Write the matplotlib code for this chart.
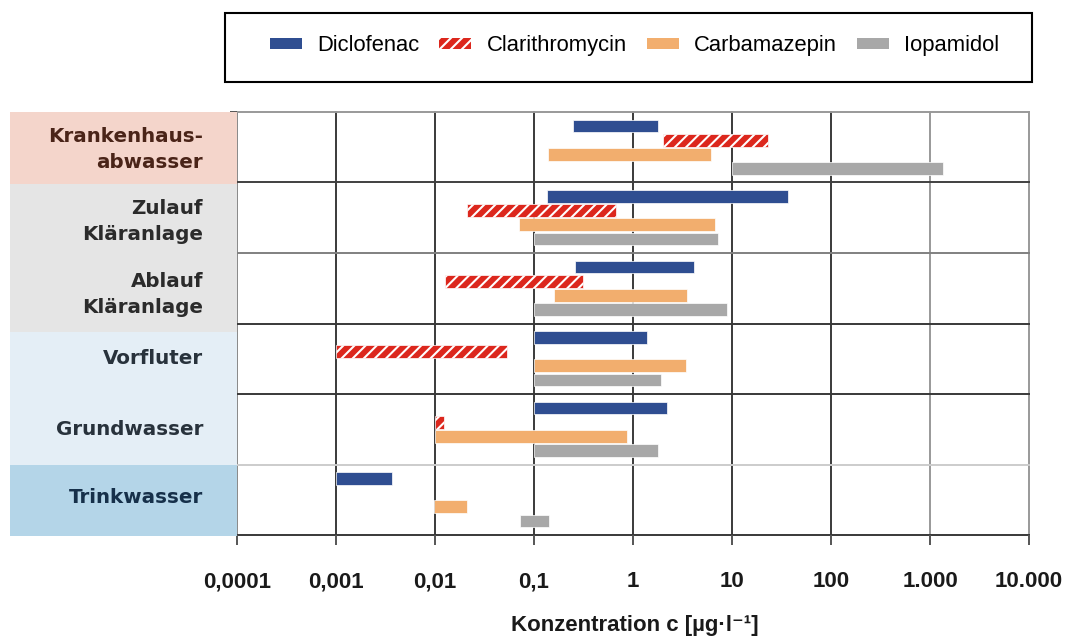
import numpy as np
import matplotlib
matplotlib.use('Agg')
import matplotlib.pyplot as plt
from matplotlib.patches import Patch, Rectangle
from matplotlib.ticker import NullLocator

# categories (top to bottom)
categories = ['Krankenhaus-\nabwasser', 'Zulauf\nKläranlage', 'Ablauf\nKläranlage',
              'Vorfluter', 'Grundwasser', 'Trinkwasser']

# concentration ranges in µg/l (min, max) per category
diclofenac_min = [0.25, 0.135, 0.26, 0.1, 0.1, 0.001]
diclofenac_max = [1.8, 37, 4.1, 1.4, 2.2, 0.0037]
clarithromycin_min = [2.0, 0.021, 0.0125, 0.001, 0.01, np.nan]
clarithromycin_max = [23, 0.67, 0.31, 0.053, 0.0123, np.nan]
carbamazepin_min = [0.14, 0.07, 0.16, 0.1, 0.01, 0.0098]
carbamazepin_max = [6.1, 6.7, 3.5, 3.4, 0.86, 0.021]
iopamidol_min = [10, 0.1, 0.1, 0.1, 0.1, 0.072]
iopamidol_max = [1350, 7.2, 9.0, 1.9, 1.8, 0.142]

xticks = [1e-4, 1e-3, 1e-2, 1e-1, 1, 10, 100, 1000, 10000]
xtick_labels = ['0,0001', '0,001', '0,01', '0,1', '1', '10', '100', '1.000', '10.000']

plt.rcParams['hatch.linewidth'] = 1.5

fig = plt.figure(figsize=(10.69, 6.37), dpi=100)
ax = fig.add_axes([0.2217, 0.1601, 0.7409, 0.6641])
ax.set_xscale('log')
ax.set_xlim(1e-4, 1e4)
ax.set_ylim(len(categories) - 0.5, -0.5)

series = [
    ('Diclofenac', diclofenac_min, diclofenac_max, '#2f4e91', None),
    ('Clarithromycin', clarithromycin_min, clarithromycin_max, '#dc271d', '///'),
    ('Carbamazepin', carbamazepin_min, carbamazepin_max, '#f2ae6e', None),
    ('Iopamidol', iopamidol_min, iopamidol_max, '#a8a8a8', None),
]
offsets = [-0.3, -0.1, 0.1, 0.3]
y = np.arange(len(categories))

handles = []
for (name, lo, hi, color, hatch), off in zip(series, offsets):
    lo = np.array(lo, dtype=float)
    hi = np.array(hi, dtype=float)
    ok = ~np.isnan(lo)
    ax.barh(y[ok] + off, hi[ok] - lo[ok], left=lo[ok], height=0.18,
            color=color, hatch=hatch, edgecolor='white', linewidth=0.5, zorder=3)
    handles.append(Patch(facecolor=color, hatch=hatch, edgecolor='white',
                         linewidth=0, label=name))

# grid lines (below the bars)
for spine in ax.spines.values():
    spine.set_visible(False)
vcolors = ['#888888', '#3a3a3a', '#3a3a3a', '#3a3a3a', '#3a3a3a', '#3a3a3a', '#3a3a3a', '#999999', '#999999']
for t, c in zip(xticks, vcolors):
    ax.axvline(t, color=c, lw=1.4, zorder=1, clip_on=False)
hcolors = ['#999999', '#404040', '#808080', '#383838', '#383838', '#cccccc', '#383838']
for b, c in zip(np.arange(-0.5, len(categories) + 0.5), hcolors):
    ax.axhline(b, color=c, lw=1.4, zorder=1, clip_on=False)

ax.set_xticks(xticks)
ax.set_xticklabels(xtick_labels, fontsize=16, fontweight='bold',
                   family='Liberation Sans', color='#1a1a1a')
ax.xaxis.set_minor_locator(NullLocator())
ax.tick_params(axis='x', length=7, width=1.4, color='#555555', pad=19)
ax.set_yticks(np.arange(-0.5, len(categories) + 0.5))
ax.set_yticklabels([])
ax.tick_params(axis='y', length=5, width=1.4, color='#555555')

ax.set_xlabel('Konzentration c [µg·l⁻¹]', fontsize=16, fontweight='bold',
              family=['Liberation Sans', 'DejaVu Sans'], color='#1a1a1a')
ax.xaxis.set_label_coords(0.502, -0.19)

# left label panel
axl = fig.add_axes([0.00935, 0.1601, 0.2124, 0.6641])
axl.set_xlim(0, 1)
axl.set_ylim(len(categories) - 0.5, -0.5)
axl.axis('off')
blocks = [(-0.5, 0.525, '#f4d5cb'), (0.525, 2.616, '#e5e5e5'),
          (2.616, 4.507, '#e4eef6'), (4.507, 5.52, '#b4d5e8')]
for y0, y1, c in blocks:
    axl.add_patch(Rectangle((0, y0), 1, y1 - y0, facecolor=c, edgecolor='none', clip_on=False))
label_colors = ['#4a2418', '#2b2b2b', '#2b2b2b', '#28323c', '#28323c', '#16304a']
label_offsets = [0.03, 0.05, 0.09, -0.01, 0.0, -0.03]
for i, (lab, c) in enumerate(zip(categories, label_colors)):
    axl.text(0.85, i + label_offsets[i], lab, ha='right', va='center', fontsize=14.3,
             fontweight='bold', color=c, linespacing=1.45, family='DejaVu Sans')

# legend with surrounding box
fig.add_artist(Rectangle((0.2105, 0.8717), 0.7552, 0.1074, transform=fig.transFigure,
                         facecolor='none', edgecolor='black', lw=1.5))
fig.legend(handles=handles, loc='center', bbox_to_anchor=(0.5935, 0.9285), ncol=4,
           frameon=False, handlelength=1.46, handleheight=0.42,
           handletextpad=0.7, columnspacing=0.9,
           prop={'family': 'Liberation Sans', 'size': 15.8})

fig.savefig('out.png', dpi=100)
